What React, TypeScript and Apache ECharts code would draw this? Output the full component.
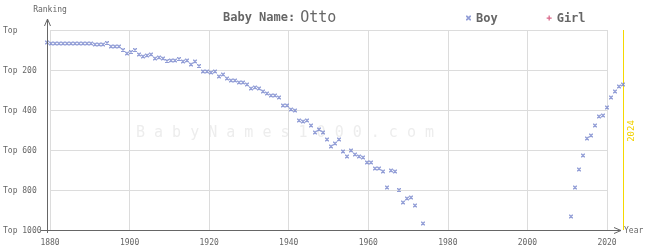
import React, { useEffect, useRef } from 'react';
import * as echarts from 'echarts';

const MONO = '"DejaVu Sans Mono", "Liberation Mono", monospace';

// Boy rankings, 1880..1974 (null = not in top 1000)
const boyEarlyStart = 1880;
const boyRanksEarly: (number | null)[] = [
  62, 67, 67, 67, 67, 67, 67, 67, 67, 67, 67, 67, 72, 72, 72, 65, 82, 82, 82, 100,
  117, 110, 100, 122, 132, 127, 122, 142, 137, 142, 155, 152, 152, 145, 157, 152, 172, 157, 180, 207,
  207, 212, 207, 232, 222, 242, 252, 252, 262, 262, 272, 292, 287, 292, 307, 317, 327, 327, 337, 377,
  377, 397, 402, 452, 457, 452, 477, 512, 497, 512, 547, 582, 567, 547, 607, 632, 602, 622, 632, 637,
  662, 662, 692, 692, 707, 787, 702, 707, 800, 862, 842, 837, 877, null, 967,
];
// Boy rankings, 2011..2024
const boyRecentStart = 2011;
const boyRanksRecent: number[] = [932, 787, 697, 627, 542, 527, 477, 432, 427, 387, 337, 307, 282, 272];
// Girl rankings: none in top 1000
const girlRanks: [number, number][] = [];

const yTicks = [0, 200, 400, 600, 800, 1000];
const currentYear = 2024;

const X_PATH = 'path://M0,0L1,0L4,3L4,4L3,4L0,1Z M3,0L4,0L4,1L1,4L0,4L0,3Z';
const PLUS_PATH = 'path://M1.5,0H2.5V1.5H4V2.5H2.5V4H1.5V2.5H0V1.5H1.5Z';

export default function App() {
  const ref = useRef<HTMLDivElement>(null);
  useEffect(() => {
    const chart = echarts.init(ref.current!, null, { renderer: 'svg' });
    const boyData: [number, number][] = [];
    boyRanksEarly.forEach((r, i) => {
      if (r !== null) boyData.push([boyEarlyStart + i, r]);
    });
    boyRanksRecent.forEach((r, i) => boyData.push([boyRecentStart + i, r]));

    chart.setOption({
      animation: false,
      title: {
        text: '{a|Baby Name:} {b|Otto}',
        left: 218,
        top: 3,
        textStyle: {
          fontWeight: 'normal',
          rich: {
            a: { fontFamily: MONO, fontSize: 12, fontWeight: 'bold', color: '#666' },
            b: { fontFamily: MONO, fontSize: 15, fontWeight: 'normal', color: '#666' },
          },
        },
      },
      legend: {
        left: 461,
        top: 7,
        itemWidth: 5,
        itemHeight: 5,
        itemGap: 49,
        textStyle: { fontFamily: MONO, fontSize: 12, fontWeight: 'bold', color: '#666' },
        data: [
          { name: 'Boy', icon: X_PATH },
          { name: 'Girl', icon: PLUS_PATH },
        ],
      },
      grid: [
        { left: 47, top: 30, width: 576, height: 200 },
        { left: 47, top: 30, width: 560, height: 200 },
      ],
      xAxis: [
        {
          gridIndex: 0, type: 'value', min: 1880, max: 2024, interval: 20,
          axisLine: { show: false }, axisTick: { show: false }, splitLine: { show: false },
          axisLabel: { show: false },
        },
        {
          gridIndex: 1, type: 'value', min: 1880, max: 2020, interval: 20,
          axisLine: { show: false }, axisTick: { show: false },
          splitLine: { show: true, lineStyle: { color: '#dcdcdc', width: 1 } },
          axisLabel: { fontFamily: MONO, fontSize: 8, color: '#666', margin: 8, formatter: (v: number) => String(v) },
        },
      ],
      yAxis: [
        {
          gridIndex: 0, type: 'value', inverse: true, min: 0, max: 1000, interval: 200,
          axisLine: { show: false }, axisTick: { show: false }, splitLine: { show: false },
          axisLabel: { show: false },
        },
        {
          gridIndex: 1, type: 'value', inverse: true, min: 0, max: 1000, interval: 200,
          axisLine: { show: false }, axisTick: { show: false },
          splitLine: { show: true, lineStyle: { color: '#dcdcdc', width: 1 } },
          axisLabel: {
            fontFamily: MONO, fontSize: 8, color: '#666', align: 'left', margin: 47,
            formatter: (v: number) => (yTicks.includes(v) ? (v === 0 ? 'Top' : 'Top ' + v) : ''),
          },
        },
      ],
      graphic: [
        {
          type: 'text', z: 0, silent: true,
          style: {
            text: 'B a b y N a m e s 1 0 0 0 . c o m',
            x: 285, y: 132, align: 'center', verticalAlign: 'middle',
            font: '15px ' + MONO, fill: '#ededed',
          },
        },
        { type: 'line', z: 10, silent: true, shape: { x1: 41, y1: 230.5, x2: 621, y2: 230.5 }, style: { stroke: '#666', lineWidth: 1 } },
        { type: 'line', z: 10, silent: true, shape: { x1: 47.5, y1: 19, x2: 47.5, y2: 233 }, style: { stroke: '#666', lineWidth: 1 } },
        { type: 'polyline', z: 10, silent: true, shape: { points: [[44.5, 26], [47.5, 19], [50.5, 26]] }, style: { stroke: '#666', fill: 'none', lineWidth: 1 } },
        { type: 'polyline', z: 10, silent: true, shape: { points: [[614, 227.5], [621, 230.5], [614, 233.5]] }, style: { stroke: '#666', fill: 'none', lineWidth: 1 } },
        { type: 'text', z: 10, silent: true, style: { text: 'Ranking', x: 50, y: 9, align: 'center', verticalAlign: 'middle', font: '8px ' + MONO, fill: '#666' } },
        { type: 'text', z: 10, silent: true, style: { text: 'Year', x: 624, y: 230, align: 'left', verticalAlign: 'middle', font: '8px ' + MONO, fill: '#666' } },
        { type: 'text', z: 10, silent: true, x: 631, y: 131, rotation: Math.PI / 2, style: { text: String(currentYear), x: 0, y: 0, align: 'center', verticalAlign: 'middle', font: '9px ' + MONO, fill: '#f2d200' } },
      ],
      series: [
        {
          name: 'Boy', type: 'scatter', xAxisIndex: 0, yAxisIndex: 0, z: 5,
          symbol: X_PATH, symbolSize: 4,
          itemStyle: { color: '#7585cc' },
          data: boyData,
          markLine: {
            silent: true, symbol: 'none', animation: false,
            label: { show: false },
            lineStyle: { color: '#f5d800', type: 'solid', width: 1 },
            data: [{ xAxis: currentYear }],
          },
        },
        {
          name: 'Girl', type: 'scatter', xAxisIndex: 0, yAxisIndex: 0,
          symbol: PLUS_PATH, symbolSize: 5,
          itemStyle: { color: '#d0406a' },
          data: girlRanks,
        },
      ],
    });
    return () => chart.dispose();
  }, []);
  return <div ref={ref} style={{ position: 'fixed', left: 0, top: 0, width: 645, height: 250 }} />;
}
